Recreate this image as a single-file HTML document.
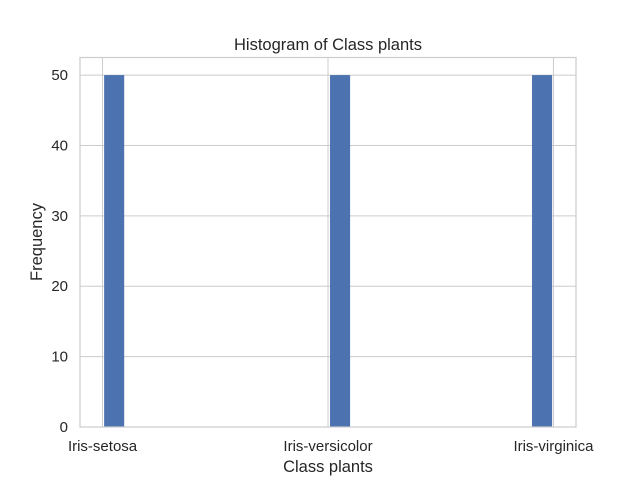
<!DOCTYPE html>
<html><head><meta charset="utf-8"><style>
body{margin:0;background:#fff;}
svg text{font-family:"Liberation Sans",Arial,sans-serif;fill:#262626;}
</style></head><body>
<svg id="chart" width="640" height="480" viewBox="0 0 640 480" xmlns="http://www.w3.org/2000/svg">
<text x="328" y="50" text-anchor="middle" font-size="16.5">Histogram of Class plants</text>
<g id="grid"></g><g id="bars"></g><g id="ticks"></g>
<rect x="80" y="57.5" width="496" height="369.5" fill="none" stroke="#cccccc" stroke-width="1.2"/>
<text x="328" y="472" text-anchor="middle" font-size="16.5">Class plants</text>
<text transform="translate(42,242) rotate(-90)" text-anchor="middle" font-size="16.5">Frequency</text>
</svg>
<script>
const categories=["Iris-setosa","Iris-versicolor","Iris-virginica"];
const counts=[50,50,50];
const barStarts=[0.007,1.009,1.905];
const barWidth=0.089;
const yTicks=[0,10,20,30,40,50];
const NS="http://www.w3.org/2000/svg";
const L=80,R=576,T=57.5,B=427;
const xmin=-0.1,xmax=2.1,ymax=52.5;
const xs=v=>L+(v-xmin)/(xmax-xmin)*(R-L);
const ys=v=>B-v/ymax*(B-T);
function mk(tag,attrs,parent){const e=document.createElementNS(NS,tag);for(const k in attrs)e.setAttribute(k,attrs[k]);parent.appendChild(e);return e;}
const grid=document.getElementById('grid'),bars=document.getElementById('bars'),ticks=document.getElementById('ticks');
yTicks.forEach(t=>{
  const l=mk('line',{x1:L,x2:R,y1:ys(t),y2:ys(t),stroke:'#cccccc','stroke-width':1},grid);
  
  
  const tx=mk('text',{x:L-12,y:ys(t)+5,'text-anchor':'end','font-size':15},ticks);
  tx.textContent=t;
  
  
});
categories.forEach((c,i)=>{
  const l=mk('line',{x1:xs(i),x2:xs(i),y1:T,y2:B,stroke:'#cccccc','stroke-width':1},grid);
  
  
  const tx=mk('text',{x:xs(i),y:B+24,'text-anchor':'middle','font-size':15},ticks);
  tx.textContent=c;
  
  
  const x0=xs(barStarts[i]),x1=xs(barStarts[i]+barWidth);
  const b=mk('rect',{x:x0,y:ys(counts[i]),width:x1-x0,height:B-ys(counts[i]),fill:'#4c72b0'},bars);
  
  
});
</script>
</body></html>
